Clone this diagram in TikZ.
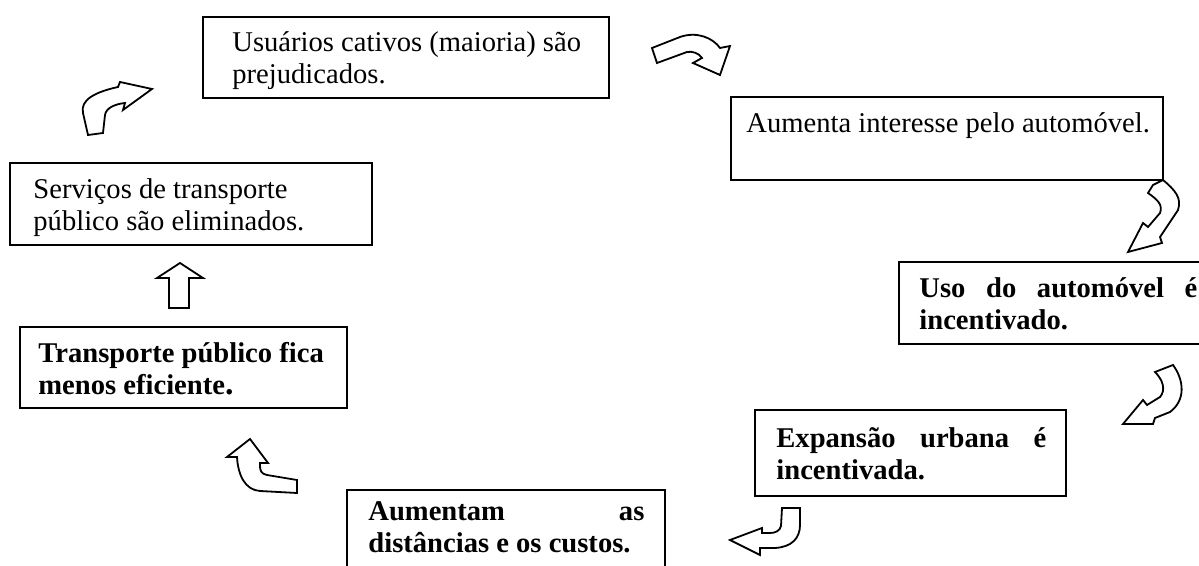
\documentclass[tikz,border=0pt]{standalone}
\usepackage{fontspec}
\setmainfont{Liberation Serif}
\usetikzlibrary{fit}
\begin{document}
\begin{tikzpicture}[x=0.5pt,y=-0.5pt,
  box/.style={draw, line width=1pt, inner sep=0pt},
  txt/.style={anchor=base west, inner sep=0pt, font=\fontsize{14.3pt}{16.5pt}\selectfont},
  btxt/.style={txt, font=\fontsize{14.3pt}{16.5pt}\selectfont\bfseries},
  blockarrow/.style={draw, fill=white, line width=0.9pt, line join=miter}]
\useasboundingbox (0,0) rectangle (1199,566);
% boxes
\node[box, fit={(203,17) (609,98)}] (b1) {};
\node[box, fit={(731,97) (1163,180)}] (b2) {};
\node[box, fit={(10,163) (372,245)}] (b3) {};
\node[box, fit={(899,262) (1215,344)}] (b4) {};
\node[box, fit={(20,327) (347,408)}] (b5) {};
\node[box, fit={(755,410) (1066,496)}] (b6) {};
\node[box, fit={(347,490) (665,580)}] (b7) {};
% texts
\node[txt] (t1a) at (232,52) {Usuários cativos (maioria) são};
\node[txt] (t1b) at (232,84) {prejudicados.};
\node[txt] (t2a) at (746,133) {Aumenta interesse pelo automóvel.};
\node[txt] (t3a) at (33,199) {Serviços de transporte};
\node[txt] (t3b) at (33,231) {público são eliminados.};
\node[btxt] (t4a) at (919,298) {\hbox to 139pt{Uso\hfill do\hfill automóvel\hfill é}};
\node[btxt] (t4b) at (919,330) {incentivado.};
\node[btxt] (t5a) at (38,363) {Transporte público fica};
\node[btxt] (t5b) at (38,394) {menos eficiente{\fontsize{17pt}{17pt}\selectfont.}};
\node[btxt] (t6a) at (776,448) {\hbox to 135pt{Expansão\hfill urbana\hfill é}};
\node[btxt] (t6b) at (776,480) {incentivada.};
\node[btxt] (t7a) at (368,520) {\hbox to 138pt{Aumentam\hfill as}};
\node[btxt] (t7b) at (368,552) {distâncias e os custos.};
% block arrows
% 1: top, from b1 to b2
\draw[blockarrow] (652,48) -- (680,37) .. controls (697,31) and (713,38) .. (720,48)
  -- (730,46) -- (720,75) -- (693,63) -- (702,58)
  .. controls (699,53) and (692,51) .. (687,52) -- (657,63) -- cycle;
% 2: from b2 to b4
\draw[blockarrow] (1153,185) -- (1163,180) .. controls (1175,190) and (1182,198) .. (1178,210)
  -- (1160,237) -- (1162,243) -- (1128,252) -- (1143,223) -- (1148,227) -- (1160,213)
  .. controls (1163,205) and (1158,200) .. (1148,193) -- cycle;
% 3: from b4 to b6
\draw[blockarrow] (1155,372) -- (1173,365) .. controls (1184,380) and (1186,400) .. (1170,412)
  -- (1155,418) -- (1153,424) -- (1123,424) -- (1143,400) -- (1147,405) -- (1160,397)
  .. controls (1166,390) and (1163,380) .. (1155,372) -- cycle;
% 4: from b6 to b7
\draw[blockarrow] (782,508) -- (781,526) .. controls (780,531) and (775,533) .. (770,533)
  -- (762,533) -- (762,528) -- (730,540) -- (760,555) -- (760,548) -- (775,548)
  .. controls (792,547) and (800,538) .. (800,525) -- (800,508) -- cycle;
% 5: from b7 to b5
\draw[blockarrow] (297,480) -- (267,475) .. controls (261,474) and (260,470) .. (260,466)
  -- (260,463) -- (268,463) -- (250,439) -- (227,457) -- (237,457)
  .. controls (238,475) and (245,490) .. (260,491) -- (297,493) -- cycle;
% 6: from b5 to b3
\draw[blockarrow] (169,308) -- (169,278) -- (157,278) -- (180,263) -- (203,278)
  -- (189,278) -- (189,308) -- cycle;
% 7: from b3 to b1
\draw[blockarrow] (88,135) -- (83,113) .. controls (80,100) and (95,92) .. (118,87)
  -- (120,82) -- (152,89) -- (123,110) -- (125,103)
  .. controls (115,104) and (106,108) .. (105,115) -- (103,133) -- cycle;
\end{tikzpicture}
\end{document}
